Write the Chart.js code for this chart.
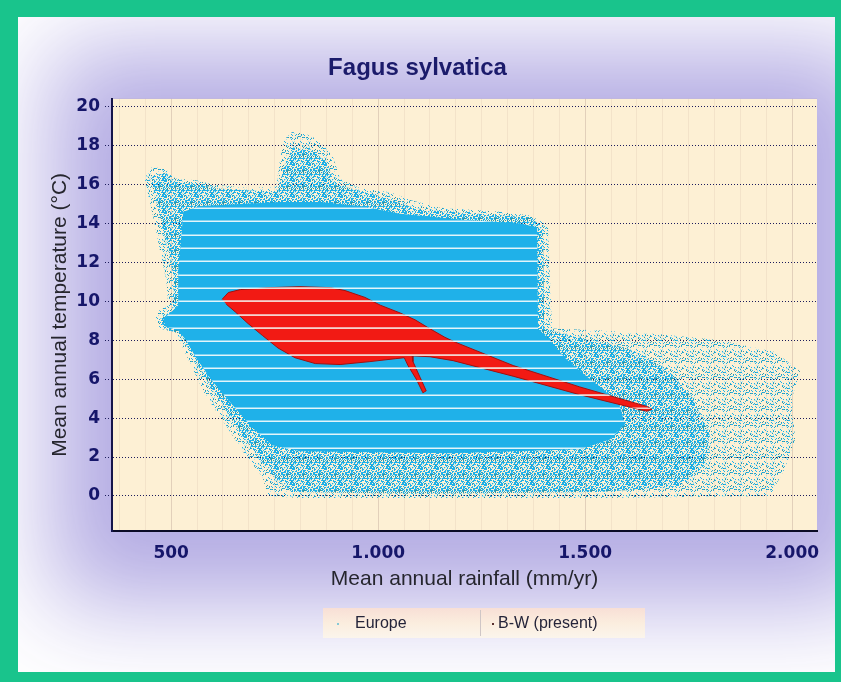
<!DOCTYPE html>
<html>
<head>
<meta charset="utf-8">
<title>Fagus sylvatica</title>
<script src="https://cdn.jsdelivr.net/npm/chart.js@4.4.0/dist/chart.umd.min.js"></script>
<style>
    html, body { margin: 0; padding: 0; background: #19c48c; }
    #frame { position: absolute; left: 18px; top: 17px; width: 817px; height: 655px; background: #fff; overflow: hidden; }
    #glow { position: absolute; left: 94px; top: 81px; width: 705px; height: 433px; background: #b1a9e2; box-shadow: 0 12px 90px 60px rgba(172, 164, 225, 0.92); }
    #wrap { position: absolute; left: 0; top: 0; width: 817px; height: 655px; }
</style>
</head>
<body>
<div id="frame">
    <div id="glow"></div>
    <div id="wrap"><canvas id="myChart"></canvas></div>
</div>
<script>
    // Europe cloud, outer (sparse) edge - rainfall (mm/yr) / temperature (°C)
    const europeSparseRain = [442, 454, 486, 510, 565, 599, 691, 754, 763, 773, 792, 824, 855, 889, 908, 956, 1029, 1077, 1149, 1294, 1367, 1410, 1415, 1420, 1536, 1681, 1825, 1958, 2019, 1999, 2007, 1982, 1946, 1536, 811, 734, 720, 679, 630, 582, 546, 524, 510, 473, 461, 469, 493, 488, 473, 459, 444, 437];
    const europeSparseTemp = [16.6, 16.9, 16.8, 16.3, 16.2, 16.0, 15.8, 15.9, 17.3, 18.3, 18.7, 18.6, 18.3, 17.5, 16.3, 15.8, 15.6, 15.2, 14.8, 14.6, 14.4, 13.9, 11.1, 8.6, 8.5, 8.3, 8.0, 7.4, 6.4, 5.0, 2.9, 1.4, 0.0, -0.1, -0.1, 0.0, 1.0, 2.1, 3.7, 5.2, 6.8, 7.8, 8.4, 8.6, 9.1, 9.5, 9.8, 11.1, 12.6, 14.1, 15.5, 16.2];

    // Europe cloud, dense speckled zone
    const europeDenseRain = [449, 486, 517, 570, 606, 758, 773, 795, 836, 874, 898, 1005, 1101, 1246, 1367, 1398, 1401, 1470, 1600, 1700, 1760, 1800, 1790, 1730, 1536, 1101, 792, 751, 710, 662, 613, 570, 541, 522, 483, 473, 502, 507, 493, 473, 459];
    const europeDenseTemp = [16.4, 16.6, 16.1, 16.0, 15.8, 15.6, 17.0, 17.9, 17.8, 17.2, 16.0, 15.4, 14.7, 14.5, 14.3, 13.8, 8.6, 8.2, 7.6, 6.5, 5.0, 3.2, 1.6, 0.5, 0.2, 0.1, 0.2, 0.9, 2.0, 3.4, 5.0, 6.5, 7.6, 8.3, 8.6, 9.1, 9.5, 11.1, 12.6, 14.4, 15.5];

    // Europe cloud, solid core
    const europeCoreRain = [529, 570, 763, 860, 956, 1053, 1198, 1343, 1384, 1386, 1415, 1451, 1500, 1548, 1584, 1596, 1560, 1487, 1174, 811, 744, 696, 647, 599, 560, 536, 517, 486, 481, 498, 517, 517, 524];
    const europeCoreTemp = [14.6, 14.9, 15.1, 15.1, 14.9, 14.5, 14.2, 14.0, 13.8, 8.6, 8.0, 7.1, 6.2, 5.4, 4.6, 3.7, 2.9, 2.4, 2.2, 2.3, 2.6, 3.5, 4.7, 5.9, 7.1, 8.0, 8.5, 8.7, 9.1, 9.4, 9.8, 11.6, 13.2];

    // B-W (present) cloud outline
    const bwRain = [623, 638, 667, 739, 811, 884, 920, 968, 1005, 1053, 1089, 1120, 1161, 1186, 1326, 1487, 1649, 1661, 1649, 1487, 1326, 1181, 1125, 1082, 1084, 1101, 1116, 1108, 1092, 1072, 1063, 1041, 980, 908, 848, 799, 758, 720, 686, 655, 633];
    const bwTemp = [10.1, 10.45, 10.6, 10.7, 10.75, 10.7, 10.55, 10.2, 9.8, 9.4, 9.05, 8.65, 8.15, 7.9, 6.7, 5.6, 4.6, 4.45, 4.35, 5.2, 6.15, 6.95, 7.15, 7.2, 6.9, 6.1, 5.4, 5.3, 6.0, 6.7, 7.1, 7.05, 6.9, 6.75, 6.8, 7.1, 7.6, 8.25, 8.85, 9.45, 9.85];

    // temperatures where the gridded data has no values (white lines)
    const gapTemps = [18.2, 17.52, 16.83, 16.15, 15.47, 14.78, 14.1, 13.42, 12.73, 12.05, 11.37, 10.68, 10.0, 9.31, 8.63, 7.95, 7.26, 6.58, 5.9, 5.21, 4.53, 3.85, 3.16, 2.48, 1.8, 1.11, 0.43];

    const xTickLabels = [500, 1000, 1500, 2000];
    const yTickLabels = [0, 2, 4, 6, 8, 10, 12, 14, 16, 18, 20];
    const xMinorStep = 62.5;

    const toPoints = (rain, temp) => rain.map((r, i) => ({ x: r, y: temp[i] }));

    // speckle texture for the scattered parts of the cloud
    function speckle(level) {
        const tile = document.createElement('canvas');
        tile.width = tile.height = 16;
        const g = tile.getContext('2d');
        for (let yy = 0; yy < 16; yy++) {
            for (let xx = 0; xx < 16; xx++) {
                const h = (Math.imul(xx, 374761393) + Math.imul(yy, 668265263)) ^ Math.imul(xx * yy + 7, 1274126177);
                const v = (h >>> 11) & 15;
                let c = null;
                if (v < level) c = '#1fb1e9';
                else if (v === level) c = '#2f97aa';
                else if (v === level + 1) c = '#a8e3f0';
                if (c) { g.fillStyle = c; g.fillRect(xx, yy, 1, 1); }
            }
        }
        return g.createPattern(tile, 'repeat');
    }

    const plotBackground = {
        id: 'plotBackground',
        beforeDraw(chart) {
            const { ctx, chartArea: a } = chart;
            ctx.save();
            ctx.fillStyle = '#fdf0d4';
            ctx.fillRect(a.left, a.top, a.right - a.left, a.bottom - a.top);
            ctx.restore();
        }
    };

    // white lines where a temperature class is missing, only inside the solid areas
    const dataGaps = {
        id: 'dataGaps',
        afterDatasetsDraw(chart) {
            const { ctx, chartArea: a, scales: { y } } = chart;
            chart.data.datasets.forEach((ds, i) => {
                if (!ds.gapColor) return;
                const pts = chart.getDatasetMeta(i).data;
                ctx.save();
                ctx.beginPath();
                pts.forEach((p, j) => j ? ctx.lineTo(p.x, p.y) : ctx.moveTo(p.x, p.y));
                ctx.closePath();
                ctx.clip();
                ctx.strokeStyle = ds.gapColor;
                ctx.lineWidth = 1.5;
                gapTemps.forEach(t => {
                    const py = Math.round(y.getPixelForValue(t)) + 0.25;
                    ctx.beginPath();
                    ctx.moveTo(a.left, py);
                    ctx.lineTo(a.right, py);
                    ctx.stroke();
                });
                ctx.restore();
            });
        }
    };

    // legend in a cream box with a divider, like the original
    const boxLegend = {
        id: 'boxLegend',
        afterDraw(chart) {
            const ctx = chart.ctx;
            const left = 305, top = 591, width = 322, height = 30, split = 157;
            const items = [];
            chart.data.datasets.forEach(ds => {
                if (!items.find(it => it.label === ds.label)) items.push({ label: ds.label, color: ds.legendColor });
            });
            ctx.save();
            const grad = ctx.createLinearGradient(0, top, 0, top + height);
            grad.addColorStop(0, '#f8dfd6');
            grad.addColorStop(0.5, '#fbedde');
            grad.addColorStop(1, '#fbf5ec');
            ctx.fillStyle = grad;
            ctx.fillRect(left, top, width, height);
            ctx.strokeStyle = '#cfc6c6';
            ctx.lineWidth = 1;
            ctx.beginPath();
            ctx.moveTo(left + split + 0.5, top + 2);
            ctx.lineTo(left + split + 0.5, top + height - 2);
            ctx.stroke();
            ctx.font = '16px "Liberation Sans", Arial, sans-serif';
            ctx.textBaseline = 'middle';
            const slots = [{ mark: left + 14, text: left + 32 }, { mark: left + split + 12, text: left + split + 18 }];
            items.forEach((it, i) => {
                const s = slots[i];
                ctx.fillStyle = it.color;
                ctx.fillRect(s.mark, top + height / 2, 2, 2);
                ctx.fillStyle = '#25253a';
                ctx.fillText(it.label, s.text, top + height / 2 + 1);
            });
            ctx.restore();
        }
    };

    const fmtThousands = v => String(v).replace(/\B(?=(\d{3})+(?!\d))/g, '.');

    const ctx = document.getElementById('myChart').getContext('2d');
    const myChart = new Chart(ctx, {
        type: 'scatter',
        data: {
            datasets: [{
                label: 'Europe',
                data: toPoints(europeSparseRain, europeSparseTemp),
                backgroundColor: speckle(2),
                legendColor: '#86c9d6',
                order: 3,
            }, {
                label: 'Europe',
                data: toPoints(europeDenseRain, europeDenseTemp),
                backgroundColor: speckle(7),
                legendColor: '#86c9d6',
                order: 2,
            }, {
                label: 'Europe',
                data: toPoints(europeCoreRain, europeCoreTemp),
                backgroundColor: '#1fb1e9',
                legendColor: '#86c9d6',
                gapColor: '#e2f5fa',
                order: 1,
            }, {
                label: 'B-W (present)',
                data: toPoints(bwRain, bwTemp),
                backgroundColor: '#f21a14',
                borderColor: '#a01010',
                borderWidth: 1,
                legendColor: '#5a3030',
                gapColor: '#f7d2cc',
                order: 0,
            }],
        },
        options: {
            responsive: true,
            maintainAspectRatio: false,
            animation: false,
            events: [],
            datasets: {
                scatter: {
                    showLine: true,
                    fill: 'shape',
                    pointRadius: 0,
                    borderWidth: 0,
                    tension: 0,
                }
            },
            layout: {
                padding: { left: 0, right: 18, top: 0, bottom: 80 }
            },
            scales: {
                x: {
                    type: 'linear',
                    min: 357,
                    max: 2060,
                    afterBuildTicks: function(scale) {
                        const ticks = [];
                        for (let v = 375; v <= 2000; v += xMinorStep) ticks.push({ value: v });
                        scale.ticks = ticks;
                    },
                    afterFit: function(scale) { scale.height = 61; },
                    ticks: {
                        autoSkip: false,
                        maxRotation: 0,
                        padding: 12,
                        color: '#16166a',
                        font: { family: 'DejaVu Sans', size: 17, weight: 'bold' },
                        callback: function(value) {
                            return xTickLabels.includes(value) ? fmtThousands(value) : '';
                        }
                    },
                    grid: {
                        drawTicks: false,
                        color: function(c) {
                            return c.tick && xTickLabels.includes(c.tick.value) ? 'rgba(170,140,130,0.32)' : 'rgba(190,160,140,0.16)';
                        },
                        lineWidth: 1,
                    },
                    border: { display: true, color: '#0b0b26', width: 2 },
                    title: {
                        display: true,
                        text: 'Mean annual rainfall (mm/yr)',
                        color: '#26262e',
                        font: { family: 'Liberation Sans', size: 21 },
                        padding: { top: 0, bottom: 0 },
                    },
                },
                y: {
                    type: 'linear',
                    min: -1.8,
                    max: 20.4,
                    afterBuildTicks: function(scale) {
                        scale.ticks = yTickLabels.map(v => ({ value: v }));
                    },
                    afterFit: function(scale) { scale.width = 94; },
                    ticks: {
                        padding: 5,
                        color: '#16166a',
                        font: { family: 'DejaVu Sans', size: 17, weight: 'bold' },
                    },
                    grid: {
                        color: '#1c1c5c',
                        lineWidth: 1,
                        tickLength: 7,
                        tickColor: '#1c1c5c',
                        tickBorderDash: [1, 2],
                    },
                    border: { display: true, color: '#14144a', width: 2, dash: [1, 2] },
                    title: {
                        display: true,
                        text: 'Mean annual temperature (°C)',
                        color: '#26262e',
                        font: { family: 'Liberation Sans', size: 21 },
                        padding: { top: 30, bottom: 0 },
                    },
                },
            },
            plugins: {
                title: {
                    display: true,
                    text: 'Fagus sylvatica',
                    color: '#1b1b6b',
                    font: { family: 'Liberation Sans', size: 24, weight: 'bold' },
                    padding: { top: 37, bottom: 16 },
                },
                legend: { display: false },
                tooltip: { enabled: false },
            },
        },
        plugins: [plotBackground, dataGaps, boxLegend],
    });
</script>
</body>
</html>
